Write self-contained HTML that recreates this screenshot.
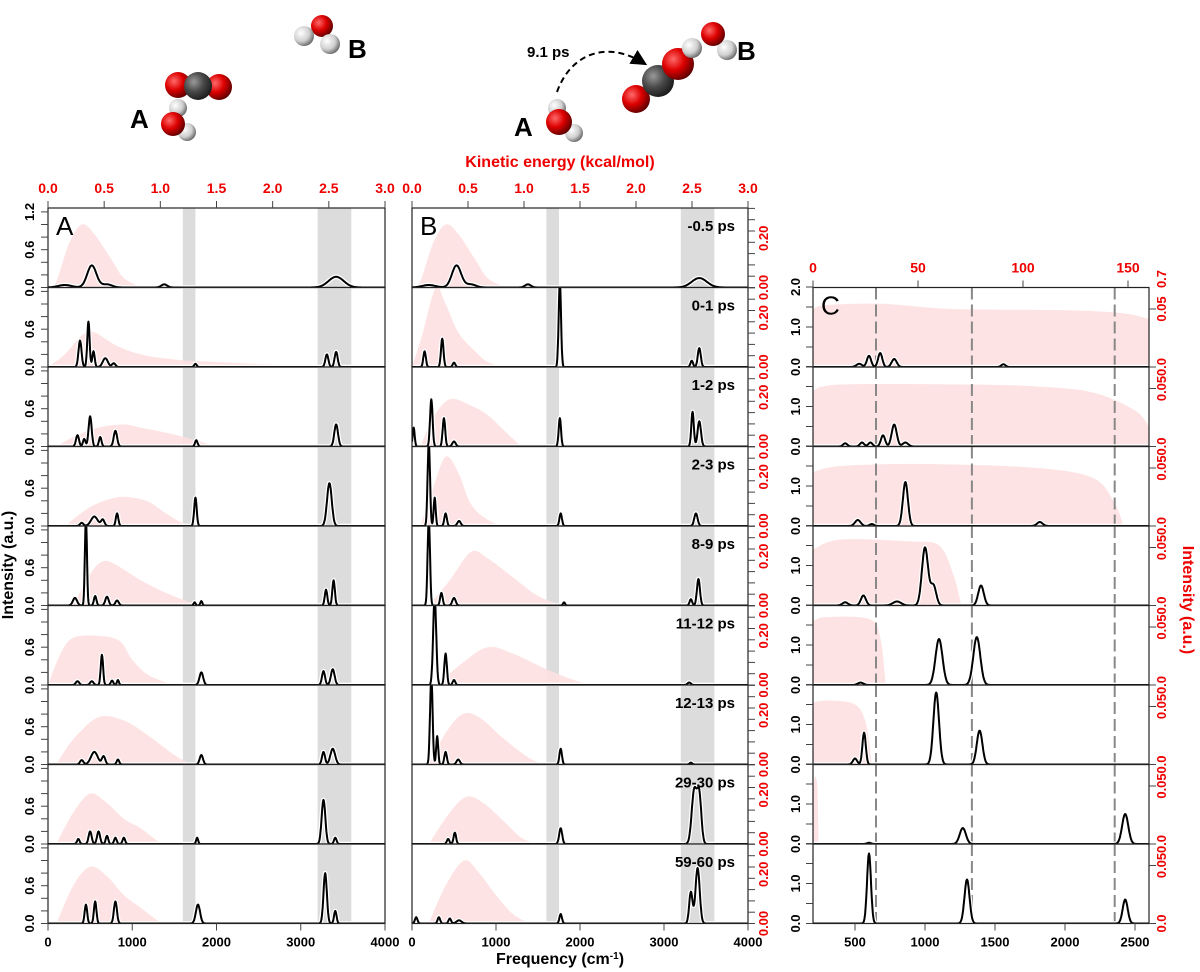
<!DOCTYPE html>
<html><head><meta charset="utf-8">
<style>
body{margin:0;background:#fff;}
svg{display:block;font-family:"Liberation Sans",sans-serif;}
</style></head>
<body>
<svg id="fig" width="1200" height="972" viewBox="0 0 1200 972" xmlns="http://www.w3.org/2000/svg">
<defs>
<radialGradient id="gO" cx="35%" cy="35%" r="70%"><stop offset="0" stop-color="#ff6a6a"/><stop offset="0.5" stop-color="#dd0000"/><stop offset="1" stop-color="#5a0000"/></radialGradient>
<radialGradient id="gC" cx="35%" cy="35%" r="70%"><stop offset="0" stop-color="#9a9a9a"/><stop offset="0.5" stop-color="#4a4a4a"/><stop offset="1" stop-color="#1a1a1a"/></radialGradient>
<radialGradient id="gH" cx="35%" cy="35%" r="70%"><stop offset="0" stop-color="#ffffff"/><stop offset="0.6" stop-color="#cfcfcf"/><stop offset="1" stop-color="#666"/></radialGradient>
<marker id="arr" markerWidth="8" markerHeight="8" refX="5" refY="4" orient="auto"><path d="M0,0 L8,4 L0,8 z" fill="#000"/></marker>
</defs>
<g id="molecules">
  <g>
    <circle cx="178" cy="85" r="13" fill="url(#gO)"/><circle cx="219" cy="87" r="13" fill="url(#gO)"/><circle cx="198" cy="86" r="14" fill="url(#gC)"/>
  </g>
  <g>
    <circle cx="178" cy="108" r="9" fill="url(#gH)"/><circle cx="187" cy="132" r="9" fill="url(#gH)"/><circle cx="173" cy="124" r="12" fill="url(#gO)"/>
  </g>
  <g>
    <circle cx="322" cy="26" r="11" fill="url(#gO)"/><circle cx="304" cy="36" r="10" fill="url(#gH)"/><circle cx="330" cy="44" r="10" fill="url(#gH)"/>
  </g>
  <text x="130" y="128" font-size="26" font-weight="bold">A</text>
  <text x="348" y="58" font-size="26" font-weight="bold">B</text>
  <text x="527" y="57" font-size="15" font-weight="bold">9.1 ps</text>
  <path d="M557,92 C570,55 605,40 642,62" fill="none" stroke="#000" stroke-width="2" stroke-dasharray="6,4" marker-end="url(#arr)"/>
  <text x="514" y="136" font-size="26" font-weight="bold">A</text>
  <g>
    <circle cx="557" cy="108" r="9" fill="url(#gH)"/><circle cx="574" cy="133" r="9" fill="url(#gH)"/><circle cx="559" cy="122" r="13" fill="url(#gO)"/>
  </g>
  <g>
    <circle cx="636" cy="99" r="14" fill="url(#gO)"/><circle cx="658" cy="81" r="16" fill="url(#gC)"/><circle cx="678" cy="64" r="16" fill="url(#gO)"/>
  </g>
  <g>
    <circle cx="692" cy="48" r="10" fill="url(#gH)"/><circle cx="727" cy="50" r="10" fill="url(#gH)"/><circle cx="713" cy="34" r="12" fill="url(#gO)"/>
  </g>
  <text x="737" y="60" font-size="26" font-weight="bold">B</text>
</g>
<g id="plots"></g>
</svg>
<script>
// ---------- data ----------
const timeLabels = ["-0.5 ps","0-1 ps","1-2 ps","2-3 ps","8-9 ps","11-12 ps","12-13 ps","29-30 ps","59-60 ps"];
const freqTicksAB = [0,1000,2000,3000,4000];
const keTicksAB = [0.0,0.5,1.0,1.5,2.0,2.5,3.0];
const freqTicksC = [500,1000,1500,2000,2500];
const keTicksC = [0,50,100,150];
const bands = [[1600,1750],[3200,3600]];
const dashedC = [650,1335,2355];
// peaks: [frequency cm-1, height, sigma]
const peaksA = [
 [[200,0.04,80],[520,0.35,55],[700,0.05,60],[1380,0.05,35],[3420,0.17,90]],
 [[380,0.42,18],[480,0.72,14],[540,0.25,14],[680,0.14,30],[780,0.06,20],[1750,0.05,15],[3310,0.2,18],[3420,0.24,18]],
 [[350,0.18,18],[430,0.12,15],[500,0.48,18],[620,0.15,15],[800,0.25,20],[1760,0.1,15],[3420,0.35,22]],
 [[400,0.05,20],[550,0.15,40],[650,0.1,20],[820,0.2,15],[1750,0.45,15],[3340,0.68,28]],
 [[320,0.12,25],[450,1.4,12],[560,0.15,15],[700,0.14,20],[820,0.08,20],[1740,0.05,12],[1820,0.07,12],[3300,0.25,15],[3390,0.4,15]],
 [[350,0.06,20],[520,0.06,20],[640,0.48,14],[760,0.07,15],[830,0.08,12],[1820,0.2,22],[3270,0.22,18],[3380,0.25,22]],
 [[400,0.07,20],[550,0.2,40],[660,0.13,20],[830,0.08,15],[1820,0.15,20],[3270,0.2,18],[3380,0.25,28]],
 [[360,0.08,15],[500,0.2,18],[600,0.2,18],[700,0.13,15],[800,0.1,15],[900,0.1,15],[1770,0.1,12],[3270,0.7,22],[3410,0.1,15]],
 [[450,0.3,15],[560,0.35,15],[800,0.35,18],[1780,0.3,25],[3290,0.8,20],[3410,0.2,15]]
];
const peaksB = [
 [[200,0.04,80],[530,0.35,55],[700,0.05,60],[1380,0.05,35],[3420,0.15,90]],
 [[150,0.25,15],[360,0.45,15],[500,0.07,15],[1760,1.35,14],[3330,0.1,15],[3420,0.3,18]],
 [[20,0.3,12],[230,0.75,15],[380,0.45,15],[500,0.08,20],[1760,0.45,14],[3340,0.55,15],[3420,0.4,20]],
 [[200,1.35,14],[270,0.45,12],[400,0.2,15],[560,0.08,20],[1770,0.2,15],[3380,0.2,20]],
 [[200,1.4,14],[350,0.2,15],[500,0.12,20],[1810,0.05,12],[3320,0.1,15],[3410,0.42,18]],
 [[270,1.4,18],[400,0.5,15],[500,0.08,15],[3300,0.04,20]],
 [[230,1.4,15],[300,0.45,12],[400,0.2,15],[550,0.08,20],[1770,0.25,15],[3320,0.03,15]],
 [[430,0.08,15],[510,0.18,15],[1770,0.25,18],[3360,0.85,30],[3420,0.75,25]],
 [[50,0.1,15],[320,0.1,15],[450,0.08,15],[560,0.05,30],[1770,0.15,15],[3320,0.5,20],[3400,0.88,25]]
];
const peaksC = [
 [[530,0.08,20],[600,0.28,15],[680,0.35,15],[780,0.2,18],[1560,0.07,15]],
 [[430,0.08,15],[550,0.1,15],[610,0.1,15],[700,0.28,15],[780,0.55,18],[860,0.1,20]],
 [[520,0.15,20],[620,0.05,15],[860,1.1,18],[1820,0.1,20]],
 [[430,0.08,20],[560,0.25,18],[800,0.1,30],[1000,1.45,22],[1060,0.5,20],[1400,0.5,20]],
 [[540,0.06,20],[1100,1.15,25],[1370,1.2,25]],
 [[500,0.15,15],[565,0.8,12],[1080,1.8,20],[1390,0.85,20]],
 [[600,0.03,15],[1270,0.4,22],[2430,0.75,22]],
 [[600,1.75,14],[1300,1.1,18],[2430,0.6,18]]
];
// pink kinetic-energy distributions: knots [frequency, height]
const pinkA = [
 [[0,0],[100,0.1],[250,0.7],[400,1.0],[550,0.85],[750,0.45],[900,0.15],[1100,0.02],[1300,0]],
 [[0,0],[200,0.2],[400,0.5],[550,0.55],[800,0.35],[1100,0.2],[1500,0.12],[2000,0.08],[2800,0.03],[3200,0]],
 [[100,0],[300,0.15],[600,0.3],[900,0.35],[1100,0.3],[1400,0.22],[1700,0.12],[2000,0]],
 [[200,0],[500,0.3],[800,0.45],[1000,0.45],[1200,0.38],[1400,0.2],[1600,0.05],[1800,0]],
 [[300,0],[500,0.5],[650,0.7],[800,0.65],[1100,0.4],[1400,0.2],[1700,0.05],[1900,0]],
 [[0,0],[150,0.5],[300,0.75],[600,0.78],[850,0.7],[1000,0.4],[1200,0.15],[1500,0]],
 [[100,0],[300,0.4],[600,0.75],[900,0.7],[1200,0.45],[1500,0.15],[1700,0]],
 [[100,0],[300,0.5],[500,0.8],[700,0.65],[900,0.4],[1100,0.25],[1300,0.05],[1400,0]],
 [[100,0],[300,0.6],[500,0.9],[700,0.75],[900,0.45],[1100,0.25],[1300,0.05],[1400,0]]
];
const pinkB = [
 [[0,0],[100,0.1],[250,0.7],[400,1.0],[550,0.85],[750,0.45],[900,0.15],[1100,0.02],[1300,0]],
 [[0,0],[120,0.5],[280,1.25],[400,1.0],[550,0.55],[750,0.25],[900,0.08],[1100,0]],
 [[100,0],[250,0.45],[450,0.75],[700,0.65],[900,0.5],[1100,0.25],[1300,0]],
 [[100,0],[250,0.6],[400,1.1],[550,0.85],[700,0.35],[900,0.1],[1100,0]],
 [[200,0],[450,0.4],[700,0.85],[900,0.75],[1200,0.45],[1500,0.15],[1800,0]],
 [[300,0],[600,0.35],[900,0.6],[1200,0.5],[1600,0.25],[2000,0.05],[2300,0]],
 [[200,0],[400,0.5],[600,0.8],[800,0.75],[1100,0.4],[1400,0.1],[1600,0]],
 [[200,0],[450,0.5],[650,0.75],[850,0.65],[1100,0.35],[1300,0.1],[1500,0]],
 [[200,0],[400,0.6],[620,1.0],[800,0.8],[1000,0.45],[1200,0.15],[1400,0]]
];
const pinkC = [
 [[200,1.45],[300,1.55],[700,1.58],[1200,1.45],[2000,1.42],[2400,1.35],[2600,1.2]],
 [[200,1.4],[400,1.55],[1300,1.55],[1800,1.5],[2200,1.35],[2500,0.9],[2600,0.5]],
 [[200,1.35],[400,1.5],[1000,1.55],[1800,1.45],[2200,1.2],[2350,0.6],[2420,0]],
 [[200,1.4],[400,1.65],[900,1.6],[1100,1.5],[1200,0.8],[1260,0]],
 [[200,1.6],[300,1.7],[600,1.65],[680,1.2],[720,0]],
 [[200,1.55],[300,1.6],[500,1.5],[580,1.0],[620,0]],
 [[200,0],[205,1.5],[230,1.5],[240,0]],
 []
];

// ---------- drawing ----------
const NS="http://www.w3.org/2000/svg";
const root=document.getElementById('plots');
function mk(tag,attrs,parent){const e=document.createElementNS(NS,tag);for(const k in attrs)e.setAttribute(k,attrs[k]);(parent||root).appendChild(e);return e;}
function txt(s,x,y,attrs,parent){const t=mk('text',Object.assign({x:x,y:y},attrs),parent);t.textContent=s;return t;}
const ROWH=79.5;
const panels=[
 {id:'a',x0:48,x1:385,top:208,n:9,f0:0,f1:4000,ppu:63,peaks:peaksA,pink:pinkA,step:5},
 {id:'b',x0:412,x1:748,top:208,n:9,f0:0,f1:4000,ppu:63,peaks:peaksB,pink:pinkB,step:5},
 {id:'c',x0:813,x1:1149,top:287.5,n:8,f0:200,f1:2600,ppu:40,peaks:peaksC,pink:pinkC,step:4}
];
function xs(p,f){return p.x0+(f-p.f0)/(p.f1-p.f0)*(p.x1-p.x0);}
function spec(peaks,f){let s=0;for(const pk of peaks){const d=(f-pk[0])/pk[2];s+=pk[1]*Math.exp(-0.5*d*d);}return s;}
function catmull(pts){let d='M'+pts[0][0]+','+pts[0][1];for(let i=0;i<pts.length-1;i++){const p0=pts[Math.max(0,i-1)],p1=pts[i],p2=pts[i+1],p3=pts[Math.min(pts.length-1,i+2)];
 const c1=[p1[0]+(p2[0]-p0[0])/6,p1[1]+(p2[1]-p0[1])/6],c2=[p2[0]-(p3[0]-p1[0])/6,p2[1]-(p3[1]-p1[1])/6];
 d+=' C'+c1[0]+','+c1[1]+' '+c2[0]+','+c2[1]+' '+p2[0]+','+p2[1];}return d;}
const defs=document.querySelector('defs');
panels.forEach(p=>{
 const g=mk('g',{});
 
 
 for(let r=0;r<p.n;r++){
  const top=p.top+r*ROWH, base=top+ROWH;
  const cp=mk('clipPath',{id:'clip-'+p.id+r},defs);
  mk('rect',{x:p.x0,y:top,width:p.x1-p.x0,height:ROWH},cp);
  const rg=mk('g',{'clip-path':'url(#clip-'+p.id+r+')'},g);
  
  
  if(p.id!=='c'){bands.forEach(b=>{const br=mk('rect',{x:xs(p,b[0]),y:top,width:xs(p,b[1])-xs(p,b[0]),height:ROWH,fill:'#dcdcdc'},rg);
   
   });}
  const pk=p.pink[r];
  if(pk&&pk.length){const pts=pk.map(k=>[xs(p,k[0]),base-k[1]*p.ppu]);
   let d=catmull(pts)+' L'+pts[pts.length-1][0]+','+base+' L'+pts[0][0]+','+base+' Z';
   const pe=mk('path',{d:d,fill:'#fde0e0',opacity:0.9},rg);
   
   }
  if(p.id==='c'){dashedC.forEach(f=>{const l=mk('line',{x1:xs(p,f),x2:xs(p,f),y1:top,y2:base,stroke:'#888','stroke-width':2,'stroke-dasharray':'12,5'},rg);
   
   });}
  let d='';for(let f=p.f0;f<=p.f1;f+=p.step){const y=base-spec(p.peaks[r],f)*p.ppu;d+=(d?' L':'M')+xs(p,f).toFixed(1)+','+y.toFixed(1);}
  mk('path',{d:d,fill:'none',stroke:'#fff','stroke-width':4.5,'stroke-linejoin':'round'},rg);
  const sl=mk('path',{d:d,fill:'none',stroke:'#000','stroke-width':2,'stroke-linejoin':'round'},rg);
  
  
  mk('rect',{x:p.x0,y:top,width:p.x1-p.x0,height:ROWH,fill:'none',stroke:'#222','stroke-width':1.2},g);
  if(p.id==='a'){
   for(let k=0;k<=6;k++){const y=base-k*0.2*p.ppu;if(y<top-0.5)continue;mk('line',{x1:p.x0-7,x2:p.x0,y1:y,y2:y,stroke:'#444'},g);}
   const labs=r===0?[0,0.6,1.2]:[0,0.6];
   labs.forEach(v=>{const y=base-v*p.ppu;const t=txt(v.toFixed(1),34,y,{'font-size':13,'font-weight':'bold','text-anchor':'middle',transform:'rotate(-90 34 '+y+')'},g);
    
    });
  }
  if(p.id==='b'){
   for(let k=0;k<=7;k++){const y=base-k*11.3;if(y<top-0.5)continue;mk('line',{x1:p.x1,x2:p.x1+7,y1:y,y2:y,stroke:'#444'},g);}
   [[0,'0.00'],[4,'0.20']].forEach(v=>{const y=base-v[0]*11.3-(v[0]?4:0);const t=txt(v[1],768,y,{'font-size':13,'font-weight':'bold',fill:'#e00','text-anchor':'middle',transform:'rotate(-90 768 '+y+')'},g);
    
    });
   const t=txt(timeLabels[r],735,top+23,{'font-size':15,'font-weight':'bold','text-anchor':'end'},g);
   
   
  }
  if(p.id==='c'){
   for(let k=0;k<=4;k++){const y=base-k*0.5*p.ppu;if(y<top-0.5)continue;mk('line',{x1:p.x0-7,x2:p.x0,y1:y,y2:y,stroke:'#444'},g);}
   const labs=r===0?[0,1,2]:[0,1];
   labs.forEach(v=>{const y=base-v*p.ppu;const t=txt(v.toFixed(1),800,y,{'font-size':13,'font-weight':'bold','text-anchor':'middle',transform:'rotate(-90 800 '+y+')'},g);
    
    });
   [0,58].forEach(o=>mk('line',{x1:p.x1,x2:p.x1+7,y1:base-o,y2:base-o,stroke:'#444'},g));
   const rl=r===0?[[0,'0.0'],[58,'0.05'],[88,'0.7']]:[[0,'0.0'],[58,'0.05']];
   rl.forEach(v=>{const y=base-v[0];const t=txt(v[1],1166,y,{'font-size':13,'font-weight':'bold',fill:'#e00','text-anchor':'middle',transform:'rotate(-90 1166 '+y+')'},g);
    
    });
  }
 }
 const L=txt(p.id.toUpperCase(),p.x0+8,p.top+27,{'font-size':26},g);
 
 
 const bottom=p.top+p.n*ROWH;
 const ft=p.id==='c'?freqTicksC:freqTicksAB;
 ft.forEach(f=>{const x=xs(p,f);mk('line',{x1:x,x2:x,y1:bottom,y2:bottom+7,stroke:'#444'},g);
  const t=txt(String(f),x,bottom+23,{'font-size':13,'font-weight':'bold','text-anchor':'middle'},g);
  
  });
 const kt=p.id==='c'?keTicksC:keTicksAB;
 const kmax=p.id==='c'?160:3.0;
 kt.forEach(v=>{const x=p.x0+v/kmax*(p.x1-p.x0);mk('line',{x1:x,x2:x,y1:p.top-7,y2:p.top,stroke:'#444'},g);
  const t=txt(p.id==='c'?String(v):v.toFixed(1),x,p.top-15,{'font-size':14,'font-weight':'bold','text-anchor':'middle',fill:'#e00'},g);
  
  });
});
const t1=txt('Kinetic energy (kcal/mol)',560,167,{'font-size':16,'font-weight':'bold','text-anchor':'middle',fill:'#e00'});


const t2=txt('Frequency (cm',560,964,{'font-size':16,'font-weight':'bold','text-anchor':'middle'});
const ts=mk('tspan',{'baseline-shift':'super','font-size':10},t2);ts.textContent='-1';
const ts2=mk('tspan',{},t2);ts2.textContent=')';


const t3=txt('Intensity (a.u.)',13,565,{'font-size':16,'font-weight':'bold','text-anchor':'middle',transform:'rotate(-90 13 565)'});


const t4=txt('Intensity (a.u.)',1183,600,{'font-size':16,'font-weight':'bold','text-anchor':'middle',fill:'#e00',transform:'rotate(90 1183 600)'});


</script>
</body></html>
